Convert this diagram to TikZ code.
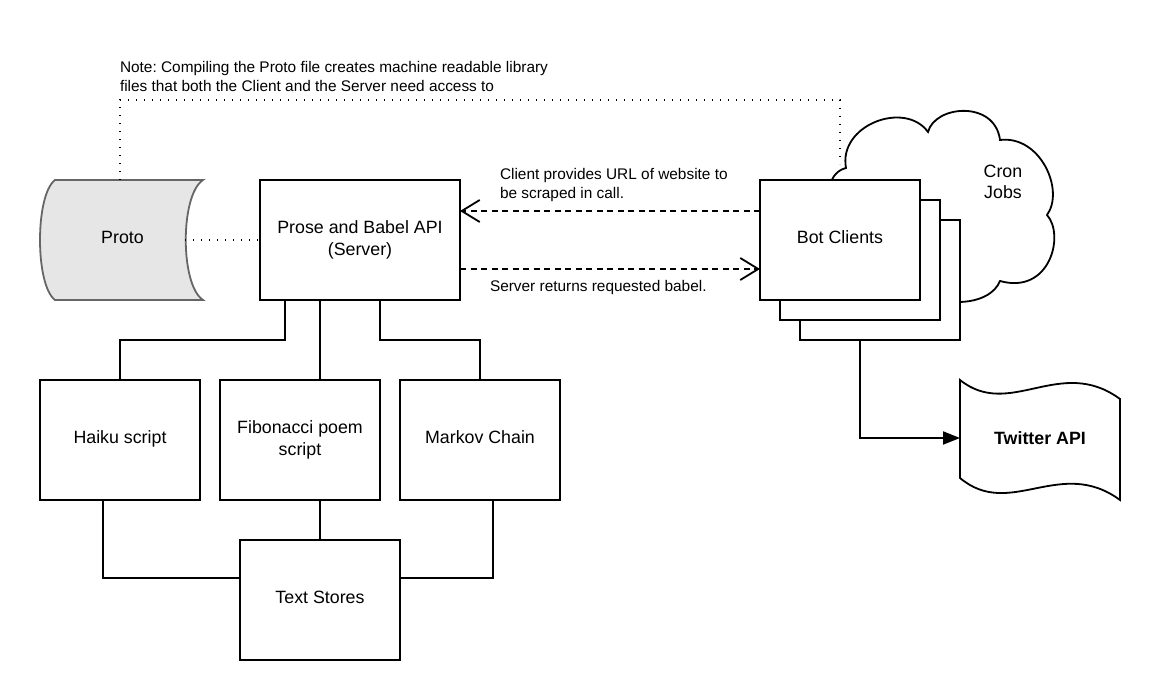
\documentclass[tikz,border=0pt]{standalone}
\usepackage{fontspec}
\setmainfont{Liberation Sans}
\usetikzlibrary{arrows.meta}
\newcommand\dfont{\fontsize{17.8}{22}\selectfont}
\newcommand\lfont{\fontsize{15.4}{19}\selectfont}
\frenchspacing
\begin{document}
\begin{tikzpicture}[x=1pt,y=-1pt,
  line width=1.8pt,
  box/.style={draw, line width=1.8pt, fill=white, minimum width=160pt, minimum height=120pt, inner sep=2pt, outer sep=0pt, align=center, font=\dfont},
  one/.style={text height=12.8pt, text depth=6pt},
  wide/.style={box, minimum width=200pt},
  lbl/.style={font=\lfont, inner sep=0pt, outer sep=0pt, align=left},
  conn/.style={draw, line width=1.8pt},
  dasharrow/.style={draw, line width=1.8pt, dash pattern=on 6pt off 4.5pt, -{Straight Barb[length=18pt,width=22pt,line width=1.8pt]}},
  dotline/.style={draw, line width=1.4pt, dash pattern=on 1.4pt off 6.6pt, line cap=butt},
  solidarrow/.style={draw, line width=1.8pt, -{Triangle[length=17pt,width=13pt]}}
  ]
\useasboundingbox[fill=white] (0,0) rectangle (1160,700);

% Proto cylinder
\path[fill={rgb,255:red,230;green,230;blue,230}, draw={rgb,255:red,102;green,102;blue,102}, line width=1.8pt]
  (55,180) -- (203,180) .. controls (180,195) and (180,285) .. (203,300) -- (55,300)
  .. controls (35,285) and (35,195) .. (55,180) -- cycle;
\node[one, minimum width=165pt, minimum height=120pt, inner sep=0pt, outer sep=0pt, align=center, font=\dfont] (proto) at (122.5,240) {Proto};

% Cloud
\path[draw, fill=white, line width=1.8pt]
  (846,168) .. controls (838,125) and (905,100) .. (928,132)
  .. controls (935,105) and (995,100) .. (1000,140)
  .. controls (1040,135) and (1065,190) .. (1047,215)
  .. controls (1065,235) and (1050,295) .. (1000,281)
  .. controls (990,305) and (950,305) .. (935,298)
  -- (830,298) -- (830,186) .. controls (832,176) and (838,170) .. (846,168) -- cycle;
\node[inner sep=0pt, align=center, font=\fontsize{17.8}{21}\selectfont] (cron) at (1003,182) {Cron\\Jobs};

% Bot clients stack
\node[box] (bot3) at (880,280) {};
\node[box] (bot2) at (860,260) {};
\node[box, one] (bot) at (840,240) {Bot Clients};

% Server
\node[wide] (srv) at (360,240) {Prose and Babel API\\(Server)};

% Scripts
\node[box, one] (haiku) at (120,440) {Haiku script};
\node[box] (fib) at (300,440) {Fibonacci poem\\script};
\node[box, one] (markov) at (480,440) {Markov Chain};
\node[box, one] (ts) at (320,600) {Text Stores};

% Twitter API tape
\path[draw, fill=white, line width=1.8pt]
  (960,380) .. controls (1010,420) and (1060,355) .. (1120,399)
  -- (1120,500) .. controls (1060,456) and (1010,520) .. (960,478) -- cycle;
\node[inner sep=0pt, outer sep=0pt, minimum width=160pt, minimum height=116pt, font=\dfont\bfseries] (tw) at (1040,438) {Twitter API};

% Note text
\node[lbl, anchor=west] (note) at (120,76.5) {Note: Compiling the Proto file creates machine readable library\\files that both the Client and the Server need access to};

% Dotted connectors
\coordinate (nw) at (120,100);
\coordinate (ne) at (840,100);
\coordinate (ce) at (840,164);
\path[dotline] ([xshift=-2.5pt]proto.north) -- (nw) -- (ne) -- (ce);
\path[dotline] ([xshift=-20pt]proto.east) -- (srv.west);

% Server <-> Bot clients
\path[dasharrow] ([yshift=29pt]bot.west) -- ([yshift=29pt]srv.east);
\path[dasharrow] ([yshift=-29pt]srv.east) -- ([yshift=-29pt]bot.west);
\node[lbl, anchor=west] (l1) at (500,185.5) {Client provides URL of website to\\be scraped in call.};
\node[lbl, anchor=west] (l2) at (490,288) {Server returns requested babel.};

% Server to scripts
\path[conn] ([xshift=25pt]srv.south west) -- ++(0,40) -| (haiku.north);
\path[conn] ([xshift=60pt]srv.south west) -- ([xshift=100pt]fib.north west);
\path[conn] ([xshift=120pt]srv.south west) -- ++(0,40) -| (markov.north);

% Scripts to text stores
\path[conn] ([xshift=63pt]haiku.south west) |- ([yshift=22pt]ts.west);
\path[conn] ([xshift=100pt]fib.south west) -- (ts.north);
\path[conn] ([xshift=93pt]markov.south west) |- ([yshift=22pt]ts.east);

% Bot clients to Twitter
\path[solidarrow] ([xshift=60pt]bot3.south west) |- (tw.west);
\end{tikzpicture}
\end{document}
